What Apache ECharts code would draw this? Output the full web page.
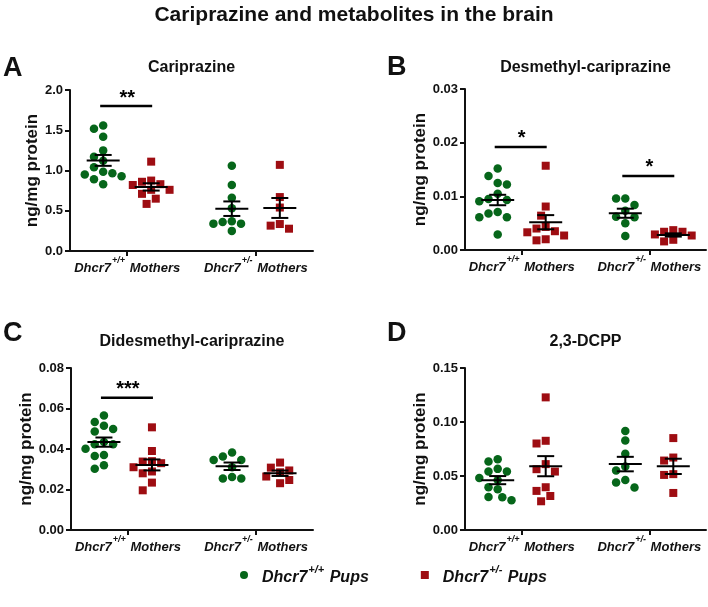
<!DOCTYPE html>
<html><head><meta charset="utf-8">
<script src="https://cdn.jsdelivr.net/npm/echarts@6/dist/echarts.min.js"></script>
<style>html,body{margin:0;padding:0;background:#fff}#c{width:708px;height:607px}</style>
</head><body><div id="c"></div>
<script>
// ---- data (ng/mg protein) ----
const mothers = ['+/+', '+/-'];          // Dhcr7 genotype of mothers (x categories)
const pups = ['+/+', '+/-'];             // Dhcr7 genotype of pups (series)
const panelTitles = ['Cariprazine', 'Desmethyl-cariprazine', 'Didesmethyl-cariprazine', '2,3-DCPP'];
const panelLetters = ['A', 'B', 'C', 'D'];

// A: Cariprazine
const cariWtMomWtPup  = [1.56, 1.52, 1.42, 1.25, 1.17, 1.12, 1.04, 0.985, 0.965, 0.95, 0.93, 0.89, 0.83];
const cariWtMomHetPup = [1.11, 0.875, 0.86, 0.83, 0.82, 0.76, 0.76, 0.71, 0.65, 0.585];
const cariHetMomWtPup = [1.06, 0.82, 0.66, 0.53, 0.37, 0.36, 0.34, 0.34, 0.25];
const cariHetMomHetPup= [1.07, 0.67, 0.54, 0.335, 0.315, 0.277];
// B: Desmethyl-cariprazine
const dcarWtMomWtPup  = [0.0152, 0.0138, 0.0125, 0.0122, 0.0105, 0.0095, 0.0093, 0.0091, 0.0071, 0.0068, 0.0061, 0.0061, 0.0029];
const dcarWtMomHetPup = [0.0157, 0.0081, 0.0064, 0.0043, 0.0040, 0.0035, 0.0033, 0.0027, 0.0020, 0.0018];
const dcarHetMomWtPup = [0.0096, 0.0096, 0.0084, 0.0073, 0.0062, 0.0061, 0.0050, 0.0026];
const dcarHetMomHetPup= [0.0037, 0.0034, 0.0034, 0.0029, 0.0027, 0.0019, 0.0016];
// C: Didesmethyl-cariprazine
const ddcWtMomWtPup   = [0.0566, 0.0533, 0.0515, 0.0499, 0.0487, 0.0434, 0.0424, 0.0424, 0.0401, 0.037, 0.0366, 0.032, 0.0303];
const ddcWtMomHetPup  = [0.0507, 0.039, 0.034, 0.0338, 0.033, 0.031, 0.0289, 0.028, 0.0234, 0.0196];
const ddcHetMomWtPup  = [0.0383, 0.0363, 0.0346, 0.0346, 0.031, 0.0262, 0.0254, 0.0254];
const ddcHetMomHetPup = [0.0333, 0.0308, 0.0294, 0.0285, 0.0264, 0.0247, 0.0231];
// D: 2,3-DCPP
const dcppWtMomWtPup  = [0.0656, 0.0634, 0.0566, 0.0541, 0.0541, 0.0482, 0.0464, 0.0396, 0.0377, 0.0306, 0.0303, 0.0275];
const dcppWtMomHetPup = [0.1228, 0.0826, 0.0801, 0.061, 0.0563, 0.0541, 0.0396, 0.0362, 0.0315, 0.0266];
const dcppHetMomWtPup = [0.0916, 0.0829, 0.0705, 0.0587, 0.055, 0.0464, 0.0439, 0.0393];
const dcppHetMomHetPup= [0.0851, 0.0671, 0.0643, 0.0517, 0.051, 0.0343];

// y-axis tick settings (max, step, decimals)
const yMaxes = [2.0, 0.03, 0.08, 0.15];
const ySteps = [0.5, 0.01, 0.02, 0.05];
const yDecimals = [1, 2, 2, 2];

// significance: mother group index, bar level, stars
const sigGroupsA = [0];    const sigLevelsA = [1.80];           const sigMarksA = ['**'];
const sigGroupsB = [0, 1]; const sigLevelsB = [0.0192, 0.0138]; const sigMarksB = ['*', '*'];
const sigGroupsC = [0];    const sigLevelsC = [0.0653];         const sigMarksC = ['***'];
const sigGroupsD = [];     const sigLevelsD = [];               const sigMarksD = [];

// ---- layout ----
const FONT = '"Liberation Sans", Arial, sans-serif';
const GREEN = '#06661a', RED = '#9e0d12', INK = '#111';
const grids = [
  {left: 70,  top: 90,  width: 243, height: 161},
  {left: 465, top: 89,  width: 241, height: 161},
  {left: 71,  top: 368, width: 242, height: 162},
  {left: 465, top: 368, width: 241, height: 162}
];
const nameGaps = [29, 36, 35, 35];
const X_MAX = 4.25, TICKS = [1, 3.25], GROUP_OFF_PX = 24, DOT = 9.2;
const panelData = [
  [[cariWtMomWtPup, cariWtMomHetPup], [cariHetMomWtPup, cariHetMomHetPup]],
  [[dcarWtMomWtPup, dcarWtMomHetPup], [dcarHetMomWtPup, dcarHetMomHetPup]],
  [[ddcWtMomWtPup, ddcWtMomHetPup], [ddcHetMomWtPup, ddcHetMomHetPup]],
  [[dcppWtMomWtPup, dcppWtMomHetPup], [dcppHetMomWtPup, dcppHetMomHetPup]]
];
const sigs = [
  [sigGroupsA, sigLevelsA, sigMarksA], [sigGroupsB, sigLevelsB, sigMarksB],
  [sigGroupsC, sigLevelsC, sigMarksC], [sigGroupsD, sigLevelsD, sigMarksD]
];

function swarm(vals, center, pxX, pxY) {
  const sorted = vals.slice().sort((a, b) => b - a);
  const placed = [];
  for (const v of sorted) {
    const y = v * pxY;
    for (let k = 0; k < 40; k++) {
      const step = k === 0 ? 0 : (k % 2 ? -Math.ceil(k / 2) : Math.ceil(k / 2));
      const x = step * DOT / 2;
      const ok = placed.every(p => Math.hypot(p.x - x, p.y - y) >= DOT);
      if (ok) { placed.push({x, y, v}); break; }
    }
  }
  return placed.map(p => [center + p.x / pxX, p.v]);
}
function meanSem(a) {
  const n = a.length, m = a.reduce((s, v) => s + v, 0) / n;
  const sd = Math.sqrt(a.reduce((s, v) => s + (v - m) * (v - m), 0) / (n - 1));
  return [m, sd / Math.sqrt(n)];
}
function catLabel(g, word) {
  return '{i|Dhcr7}{s|' + g + '}{i| ' + word + '}';
}
const rich = {
  i: {fontSize: 13, fontWeight: 'bold', fontStyle: 'italic', fontFamily: FONT, color: INK, lineHeight: 19, verticalAlign: 'bottom'},
  s: {fontSize: 9, fontWeight: 'bold', fontStyle: 'italic', fontFamily: FONT, color: INK, lineHeight: 19, verticalAlign: 'top', padding: [0, 1, 0, 1]}
};
const legRich = {
  f: {fontSize: 16, fontWeight: 'bold', fontStyle: 'italic', fontFamily: FONT, color: INK, lineHeight: 22, verticalAlign: 'bottom', padding: [0, 0, 0, 9]},
  i: {fontSize: 16, fontWeight: 'bold', fontStyle: 'italic', fontFamily: FONT, color: INK, lineHeight: 22, verticalAlign: 'bottom'},
  s: {fontSize: 11, fontWeight: 'bold', fontStyle: 'italic', fontFamily: FONT, color: INK, lineHeight: 22, verticalAlign: 'top', padding: [0, 1, 0, 1]}
};

const option = {
  animation: false,
  backgroundColor: '#fff',
  textStyle: {fontFamily: FONT},
  title: [],
  grid: grids,
  xAxis: [], yAxis: [], series: [],
  legend: {
    left: 240, top: 564, itemWidth: 8, itemHeight: 8, itemGap: 52, padding: 0,
    data: [{name: 'g', icon: 'circle'}, {name: 'r', icon: 'rect'}],
    formatter: n => '{f|Dhcr7}{s|' + (n === 'g' ? pups[0] : pups[1]) + '}{i| Pups}',
    textStyle: {rich: legRich}
  }
};

option.title.push({text: 'Cariprazine and metabolites in the brain', left: 354, top: 15, textAlign: 'center', textVerticalAlign: 'middle', padding: 0,
  textStyle: {fontSize: 21, fontWeight: 'bold', color: INK, fontFamily: FONT}});
const letterPos = [[3, 69], [387, 68], [3, 334], [387, 334]];
const titleY = [68, 68, 342, 342];

panelData.forEach((pd, i) => {
  const g = grids[i];
  const pxX = g.width / X_MAX, pxY = g.height / yMaxes[i];
  const off = GROUP_OFF_PX / pxX;
  option.title.push({text: panelLetters[i], left: letterPos[i][0], top: letterPos[i][1], textVerticalAlign: 'middle', padding: 0,
    textStyle: {fontSize: 27, fontWeight: 'bold', color: INK, fontFamily: FONT}});
  option.title.push({text: panelTitles[i], left: g.left + g.width / 2, top: titleY[i], textAlign: 'center', textVerticalAlign: 'middle', padding: 0,
    textStyle: {fontSize: 16, fontWeight: 'bold', color: INK, fontFamily: FONT}});
  option.xAxis.push({
    gridIndex: i, type: 'value', min: 0, max: X_MAX,
    axisLine: {show: true, lineStyle: {color: INK, width: 2}},
    axisTick: {show: true, customValues: TICKS, length: 5, lineStyle: {color: INK, width: 2}},
    axisLabel: {show: true, customValues: TICKS, margin: 5, formatter: v => catLabel(Math.abs(v - TICKS[0]) < 1e-6 ? mothers[0] : mothers[1], 'Mothers'), rich},
    splitLine: {show: false}
  });
  option.yAxis.push({
    gridIndex: i, type: 'value', min: 0, max: yMaxes[i], interval: ySteps[i],
    axisLine: {show: true, lineStyle: {color: INK, width: 2}},
    axisTick: {show: true, length: 5, lineStyle: {color: INK, width: 2}},
    axisLabel: {formatter: v => v.toFixed(yDecimals[i]), fontSize: 13, fontWeight: 'bold', color: INK, margin: 7, fontFamily: FONT},
    splitLine: {show: false},
    name: 'ng/mg protein', nameLocation: 'middle', nameRotate: 90, nameGap: nameGaps[i],
    nameTextStyle: {fontSize: 17, fontWeight: 'bold', color: INK, fontFamily: FONT}
  });
  const green = [], red = [], stats = [];
  pd.forEach((pair, gi) => {
    const cg = TICKS[gi] - off, cr = TICKS[gi] + off;
    green.push(...swarm(pair[0], cg, pxX, pxY));
    red.push(...swarm(pair[1], cr, pxX, pxY));
    stats.push([cg, ...meanSem(pair[0])]);
    stats.push([cr, ...meanSem(pair[1])]);
  });
  option.series.push({name: 'g', type: 'scatter', xAxisIndex: i, yAxisIndex: i, symbol: 'circle', symbolSize: 8.5,
    itemStyle: {color: GREEN, opacity: 1}, data: green, z: 2});
  option.series.push({name: 'r', type: 'scatter', xAxisIndex: i, yAxisIndex: i, symbol: 'rect', symbolSize: 8,
    itemStyle: {color: RED, opacity: 1}, data: red, z: 2});
  option.series.push({type: 'custom', xAxisIndex: i, yAxisIndex: i, z: 5, data: stats,
    renderItem: (params, api) => {
      const x = api.value(0), m = api.value(1), s = api.value(2);
      const pm = api.coord([x, m]), pt = api.coord([x, m + s]), pb = api.coord([x, m - s]);
      const st = {stroke: '#000', lineWidth: 2};
      return {type: 'group', children: [
        {type: 'line', shape: {x1: pm[0] - 16.5, y1: pm[1], x2: pm[0] + 16.5, y2: pm[1]}, style: st},
        {type: 'line', shape: {x1: pt[0], y1: pt[1], x2: pb[0], y2: pb[1]}, style: st},
        {type: 'line', shape: {x1: pt[0] - 8.5, y1: pt[1], x2: pt[0] + 8.5, y2: pt[1]}, style: st},
        {type: 'line', shape: {x1: pb[0] - 8.5, y1: pb[1], x2: pb[0] + 8.5, y2: pb[1]}, style: st}
      ]};
    }});
  const [sg, sl, sm] = sigs[i];
  if (sg.length) {
    option.series.push({type: 'custom', xAxisIndex: i, yAxisIndex: i, z: 5,
      data: sg.map((gi, k) => [TICKS[gi] - off, TICKS[gi] + off, sl[k]]),
      renderItem: (params, api) => {
        const a = api.coord([api.value(0), api.value(2)]), b = api.coord([api.value(1), api.value(2)]);
        return {type: 'group', children: [
          {type: 'line', shape: {x1: a[0] - 3, y1: a[1], x2: b[0] + 1, y2: b[1]}, style: {stroke: '#000', lineWidth: 2.5}},
          {type: 'text', style: {text: sm[params.dataIndex], x: (a[0] + b[0]) / 2, y: a[1] - 8, align: 'center', verticalAlign: 'middle',
            fontSize: 20, fontWeight: 'bold', fill: '#000', fontFamily: FONT}}
        ]};
      }});
  }
});

const chart = echarts.init(document.getElementById('c'), null, {renderer: 'canvas'});
chart.setOption(option);
</script>
</body></html>
